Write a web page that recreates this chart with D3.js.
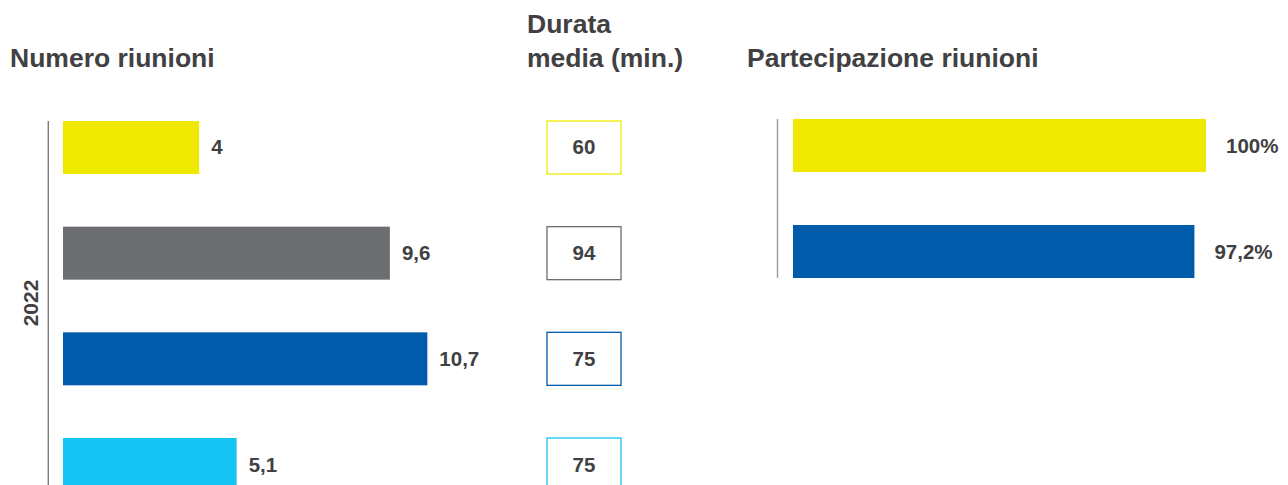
<!DOCTYPE html>
<html lang="it">
<head>
<meta charset="utf-8">
<script src="https://cdn.jsdelivr.net/npm/d3@7"></script>
<style>
  html, body { margin: 0; padding: 0; background: #ffffff; }
  svg { display: block; }
  text { font-family: "Liberation Sans", Arial, Helvetica, sans-serif; font-weight: bold; fill: #414042; }
</style>
</head>
<body>
<svg id="chart" width="1288" height="485"></svg>
<script>
// Governance bodies, one colour each
const bodies = ["s1", "s2", "s3", "s4"];
const bodyColors = ["#efe800", "#6d6e71", "#005baa", "#14c4f2"];

// Number of meetings in the year
const meetings = [4, 9.6, 10.7, 5.1];
const meetingLabels = ["4", "9,6", "10,7", "5,1"];

// Average duration (minutes)
const durations = [60, 94, 75, 75];

// Attendance (%) — only two bodies reported
const attendanceBodies = ["s1", "s3"];
const attendance = [100, 97.2];
const attendanceLabels = ["100%", "97,2%"];

const yearLabel = "2022";
const titles = ["Numero riunioni", "Partecipazione riunioni"];
const durationTitle = ["Durata", "media (min.)"];

const colorOf = d3.scaleOrdinal().domain(bodies).range(bodyColors);

const svg = d3.select("#chart");

// ---- Titles ----
svg.append("text").attr("x", 10).attr("y", 66.5)
  .style("font-size", "26.5px").text(titles[0]);
svg.append("text").attr("x", 747).attr("y", 66.5)
  .style("font-size", "26.5px").text(titles[1]);
svg.append("text").attr("x", 527).attr("y", 32.5)
  .style("font-size", "26.5px")
  .selectAll("tspan").data(durationTitle).join("tspan")
  .attr("x", 527).attr("dy", (d, i) => i === 0 ? 0 : 34)
  .text(d => d);

// ---- Number of meetings ----
const yLeft = d3.scaleBand().domain(bodies).range([121, 491])
  .paddingInner(0.4985).paddingOuter(0);
const xLeft = d3.scaleLinear().domain([0, 10]).range([63, 63 + 340.5]);

svg.append("line")
  .attr("x1", 48.3).attr("x2", 48.3).attr("y1", 121).attr("y2", 490)
  .attr("stroke", "#7a7a7c").attr("stroke-width", 1.4);

svg.append("text")
  .attr("transform", `translate(37.5,303) rotate(-90)`)
  .attr("text-anchor", "middle")
  .style("font-size", "21px").text(yearLabel);

const left = svg.append("g");
left.selectAll("rect").data(bodies).join("rect")
  .attr("x", xLeft(0))
  .attr("y", d => yLeft(d))
  .attr("width", (d, i) => xLeft(meetings[i]) - xLeft(0))
  .attr("height", yLeft.bandwidth())
  .attr("fill", d => colorOf(d));
left.selectAll("text").data(bodies).join("text")
  .attr("x", (d, i) => xLeft(meetings[i]) + 12)
  .attr("y", d => yLeft(d) + yLeft.bandwidth() / 2 + 7)
  .style("font-size", "20.5px")
  .text((d, i) => meetingLabels[i]);

// ---- Average duration boxes ----
const boxX = 547, boxW = 74;
const mid = svg.append("g");
mid.selectAll("rect").data(bodies).join("rect")
  .attr("x", boxX)
  .attr("y", d => yLeft(d))
  .attr("width", boxW)
  .attr("height", yLeft.bandwidth())
  .attr("fill", "#ffffff")
  .attr("stroke", d => colorOf(d))
  .attr("stroke-width", 1.3);
mid.selectAll("text").data(bodies).join("text")
  .attr("x", boxX + boxW / 2)
  .attr("y", d => yLeft(d) + yLeft.bandwidth() / 2 + 7)
  .attr("text-anchor", "middle")
  .style("font-size", "20.5px")
  .text((d, i) => durations[i]);

// ---- Attendance ----
const yRight = d3.scaleBand().domain(attendanceBodies).range([119, 278])
  .paddingInner(0.5).paddingOuter(0);
const xRight = d3.scaleLinear().domain([0, 100]).range([793, 793 + 413]);

svg.append("line")
  .attr("x1", 777.5).attr("x2", 777.5).attr("y1", 119).attr("y2", 278)
  .attr("stroke", "#9a9a9c").attr("stroke-width", 1.4);

const right = svg.append("g");
right.selectAll("rect").data(attendanceBodies).join("rect")
  .attr("x", xRight(0))
  .attr("y", d => yRight(d))
  .attr("width", (d, i) => xRight(attendance[i]) - xRight(0))
  .attr("height", yRight.bandwidth())
  .attr("fill", d => colorOf(d));
right.selectAll("text").data(attendanceBodies).join("text")
  .attr("x", (d, i) => xRight(attendance[i]) + 20)
  .attr("y", d => yRight(d) + yRight.bandwidth() / 2 + 7)
  .style("font-size", "20.5px")
  .text((d, i) => attendanceLabels[i]);
</script>
</body>
</html>
